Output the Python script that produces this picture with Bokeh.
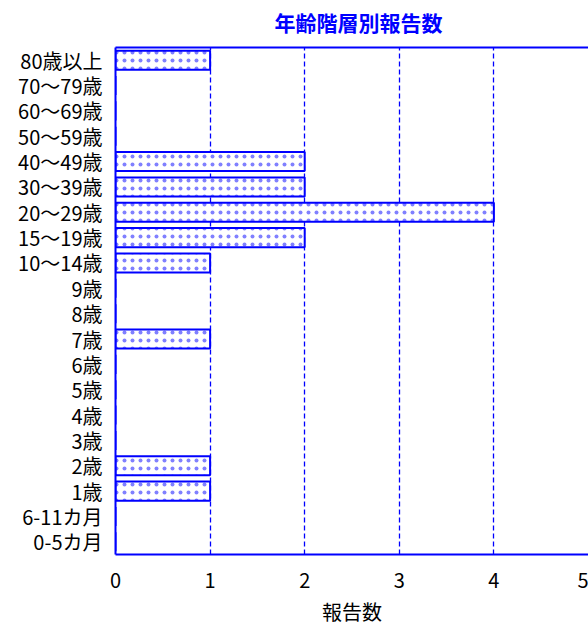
from bokeh.plotting import figure
from bokeh.models import FactorRange, Range1d, LinearAxis, FixedTicker
from bokeh.embed import file_html
from bokeh.resources import INLINE

categories = ["0-5カ月", "6-11カ月", "1歳", "2歳", "3歳", "4歳", "5歳", "6歳", "7歳",
              "8歳", "9歳", "10～14歳", "15～19歳", "20～29歳", "30～39歳", "40～49歳",
              "50～59歳", "60～69歳", "70～79歳", "80歳以上"]
counts = [0, 0, 1, 1, 0, 0, 0, 0, 1, 0, 0, 1, 2, 4, 2, 2, 0, 0, 0, 1]
x_ticks = [0, 1, 2, 3, 4, 5]

BLUE = "#0000FF"
FONT = "Noto Sans CJK JP"

p = figure(width=588, height=628, output_backend="svg", toolbar_location=None,
           y_range=FactorRange(*categories, range_padding=0),
           x_range=Range1d(0, 5),
           title="年齢階層別報告数",
           min_border_left=115, min_border_right=0, min_border_top=0, min_border_bottom=0)

p.title.align = "left"
p.title.offset = 159
p.title.standoff = 8
p.title.text_color = BLUE
p.title.text_font = FONT
p.title.text_font_size = "21px"
p.title.text_font_style = "bold"

p.hbar(y=categories, right=counts, left=0, height=0.75,
       fill_color="white", line_color=BLUE, line_width=2,
       hatch_pattern="dot", hatch_color="#8080ff", hatch_scale=8, hatch_weight=1.5)

p.outline_line_color = None
p.ygrid.grid_line_color = None
p.xgrid.grid_line_color = BLUE
p.xgrid.grid_line_dash = "5 3"
p.xgrid.grid_line_width = 1.3
p.xgrid.ticker = FixedTicker(ticks=x_ticks)

p.xaxis.ticker = FixedTicker(ticks=x_ticks)
p.xaxis.axis_line_color = BLUE
p.xaxis.axis_line_width = 2
p.xaxis.major_tick_line_color = None
p.xaxis.minor_tick_line_color = None
p.xaxis.major_label_standoff = 12
p.xaxis.major_label_text_font = FONT
p.xaxis.major_label_text_font_size = "20px"
p.xaxis.major_label_text_color = "black"
p.xaxis.axis_label = "報告数"
p.xaxis.axis_label_text_font = FONT
p.xaxis.axis_label_text_font_size = "20px"
p.xaxis.axis_label_text_font_style = "normal"
p.xaxis.axis_label_text_color = "black"
p.xaxis.axis_label_standoff = 6

p.yaxis.axis_line_color = BLUE
p.yaxis.axis_line_width = 2
p.yaxis.major_tick_line_color = None
p.yaxis.minor_tick_line_color = None
p.yaxis.major_label_standoff = 7
p.yaxis.major_label_text_font = FONT
p.yaxis.major_label_text_font_size = "20px"
p.yaxis.major_label_text_color = "black"

top_axis = LinearAxis(axis_line_color=BLUE, axis_line_width=2,
                      major_tick_line_color=None, minor_tick_line_color=None,
                      major_tick_out=0, major_tick_in=0, major_label_standoff=0,
                      major_label_text_font_size="0px", ticker=FixedTicker(ticks=[]),
                      axis_label=" ", axis_label_text_font_size="1px",
                      axis_label_standoff=3)
p.add_layout(top_axis, "above")

open("out.html", "w").write(file_html(p, INLINE))
